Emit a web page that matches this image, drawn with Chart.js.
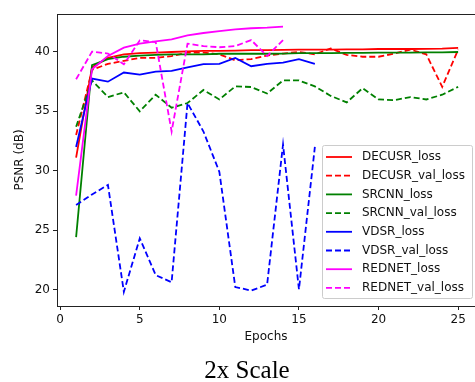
<!DOCTYPE html>
<html>
<head>
<meta charset="utf-8">
<script src="https://cdn.jsdelivr.net/npm/chart.js@4.4.1/dist/chart.umd.min.js"></script>
<style>
  html, body { margin: 0; padding: 0; background: #fff; overflow: hidden; }
  #wrap { width: 475px; height: 382px; }
</style>
</head>
<body>
<div id="wrap"><canvas id="c" width="475" height="382"></canvas></div>
<script>
// epochs
const epochsLong = [1, 2, 3, 4, 5, 6, 7, 8, 9, 10, 11, 12, 13, 14, 15, 16, 17, 18, 19, 20, 21, 22, 23, 24, 25];
const epochsVdsr = [1, 2, 3, 4, 5, 6, 7, 8, 9, 10, 11, 12, 13, 14, 15, 16];
const epochsRednet = [1, 2, 3, 4, 5, 6, 7, 8, 9, 10, 11, 12, 13, 14];

// PSNR values
const decusrLoss = [31.1, 38.7, 39.5, 39.8, 39.9, 39.95, 40.0, 40.05, 40.1, 40.1, 40.12, 40.15, 40.15, 40.17, 40.2, 40.2, 40.2, 40.22, 40.22, 40.25, 40.25, 40.25, 40.27, 40.28, 40.35];
const decusrVal = [33.0, 38.5, 39.0, 39.25, 39.5, 39.5, 39.66, 39.95, 39.95, 39.8, 39.3, 39.4, 39.7, 39.87, 40.0, 39.8, 40.3, 39.75, 39.6, 39.6, 39.87, 40.2, 39.8, 37.06, 40.2];
const srcnnLoss = [24.4, 38.9, 39.4, 39.6, 39.7, 39.75, 39.8, 39.8, 39.8, 39.85, 39.85, 39.85, 39.85, 39.87, 39.9, 39.9, 39.9, 39.92, 39.92, 39.95, 39.95, 39.95, 39.97, 39.97, 40.0];
const srcnnVal = [33.7, 37.6, 36.2, 36.6, 35.0, 36.4, 35.3, 35.7, 36.8, 36.0, 37.1, 37.05, 36.5, 37.6, 37.6, 37.1, 36.3, 35.75, 36.95, 36.0, 35.94, 36.2, 36.0, 36.4, 37.06];
const vdsrLoss = [32.0, 37.76, 37.5, 38.27, 38.1, 38.35, 38.4, 38.7, 38.97, 39.0, 39.5, 38.8, 39.0, 39.1, 39.4, 39.0];
const vdsrVal = [27.1, 28.0, 28.8, 19.8, 24.3, 21.2, 20.6, 35.7, 33.3, 29.9, 20.2, 19.9, 20.4, 32.2, 20.0, 32.0];
const rednetLoss = [27.9, 38.55, 39.67, 40.37, 40.7, 40.9, 41.07, 41.4, 41.6, 41.76, 41.9, 42.0, 42.05, 42.13];
const rednetVal = [37.7, 40.03, 39.87, 38.97, 40.98, 40.84, 33.3, 40.7, 40.5, 40.4, 40.5, 41.0, 39.66, 41.0];

const xTicks = [0, 5, 10, 15, 20, 25];
const yTicks = [20, 25, 30, 35, 40];

const font = 'DejaVu Sans';

function pts(xs, ys) {
  return xs.map((x, i) => ({ x: x, y: ys[i] }));
}

function series(label, xs, ys, color, dashed, i) {
  return {
    label: label,
    data: pts(xs, ys),
    borderColor: color,
    backgroundColor: color,
    borderWidth: 1.8,
    borderDash: dashed ? [6, 3] : [],
    pointRadius: 0,
    tension: 0,
    fill: false,
    order: 8 - i, // matplotlib draws later lines on top
  };
}

const datasets = [
  series('DECUSR_loss', epochsLong, decusrLoss, '#ff0000', false, 0),
  series('DECUSR_val_loss', epochsLong, decusrVal, '#ff0000', true, 1),
  series('SRCNN_loss', epochsLong, srcnnLoss, '#008000', false, 2),
  series('SRCNN_val_loss', epochsLong, srcnnVal, '#008000', true, 3),
  series('VDSR_loss', epochsVdsr, vdsrLoss, '#0000ff', false, 4),
  series('VDSR_val_loss', epochsVdsr, vdsrVal, '#0000ff', true, 5),
  series('REDNET_loss', epochsRednet, rednetLoss, '#ff00ff', false, 6),
  series('REDNET_val_loss', epochsRednet, rednetVal, '#ff00ff', true, 7),
];

// box around the plot + legend + caption
const extras = {
  id: 'extras',
  afterDraw(chart) {
    const ctx = chart.ctx;
    const a = chart.chartArea;
    ctx.save();
    ctx.strokeStyle = '#222';
    ctx.lineWidth = 1;
    ctx.strokeRect(a.left + 0.5, a.top + 0.5, a.right - a.left, a.bottom - a.top);

    // legend
    const lx = 322, ly = 145, lw = 150, lh = 153;
    ctx.fillStyle = 'rgba(255,255,255,0.85)';
    ctx.strokeStyle = '#cccccc';
    ctx.beginPath();
    ctx.roundRect(lx + 0.5, ly + 0.5, lw, lh, 2);
    ctx.fill();
    ctx.stroke();
    ctx.font = '12px "' + font + '"';
    ctx.textBaseline = 'middle';
    chart.data.datasets.forEach((ds, i) => {
      const y = ly + 12 + i * 18.7;
      ctx.strokeStyle = ds.borderColor;
      ctx.lineWidth = 1.8;
      ctx.setLineDash(ds.borderDash);
      ctx.beginPath();
      ctx.moveTo(326, y);
      ctx.lineTo(352, y);
      ctx.stroke();
      ctx.setLineDash([]);
      ctx.fillStyle = '#111';
      ctx.fillText(ds.label, 362, y);
    });

    // caption
    ctx.font = '25px "Liberation Serif"';
    ctx.fillStyle = '#000';
    ctx.textAlign = 'center';
    ctx.textBaseline = 'alphabetic';
    ctx.fillText('2x Scale', 247, 378);
    ctx.restore();
  }
};

new Chart(document.getElementById('c'), {
  type: 'line',
  data: { datasets: datasets },
  options: {
    responsive: false,
    animation: false,
    layout: { padding: { top: 14, left: 0, right: 0, bottom: 34 } },
    plugins: {
      legend: { display: false },
      tooltip: { enabled: false },
    },
    scales: {
      x: {
        type: 'linear',
        min: -0.2,
        max: 26.06,
        afterBuildTicks: s => { s.ticks = xTicks.map(v => ({ value: v })); },
        afterFit: s => { s.height = 42; },
        grid: { drawOnChartArea: false, drawTicks: true, tickLength: 4, color: '#222' },
        border: { display: true, color: '#222', width: 1 },
        ticks: { color: '#111', padding: 3, maxRotation: 0, font: { family: font, size: 12 } },
        title: { display: true, text: 'Epochs', color: '#111', padding: { top: 0, bottom: 4 }, font: { family: font, size: 12 } },
      },
      y: {
        min: 18.6,
        max: 43.2,
        afterBuildTicks: s => { s.ticks = yTicks.map(v => ({ value: v })); },
        afterFit: s => { s.width = 57; },
        grid: { drawOnChartArea: false, drawTicks: true, tickLength: 4, color: '#222' },
        border: { display: true, color: '#222', width: 1 },
        ticks: { color: '#111', padding: 3, font: { family: font, size: 12 } },
        title: { display: true, text: 'PSNR (dB)', color: '#111', padding: { top: 13, bottom: 0 }, font: { family: font, size: 12 } },
      },
    },
  },
  plugins: [extras],
});
</script>
</body>
</html>
